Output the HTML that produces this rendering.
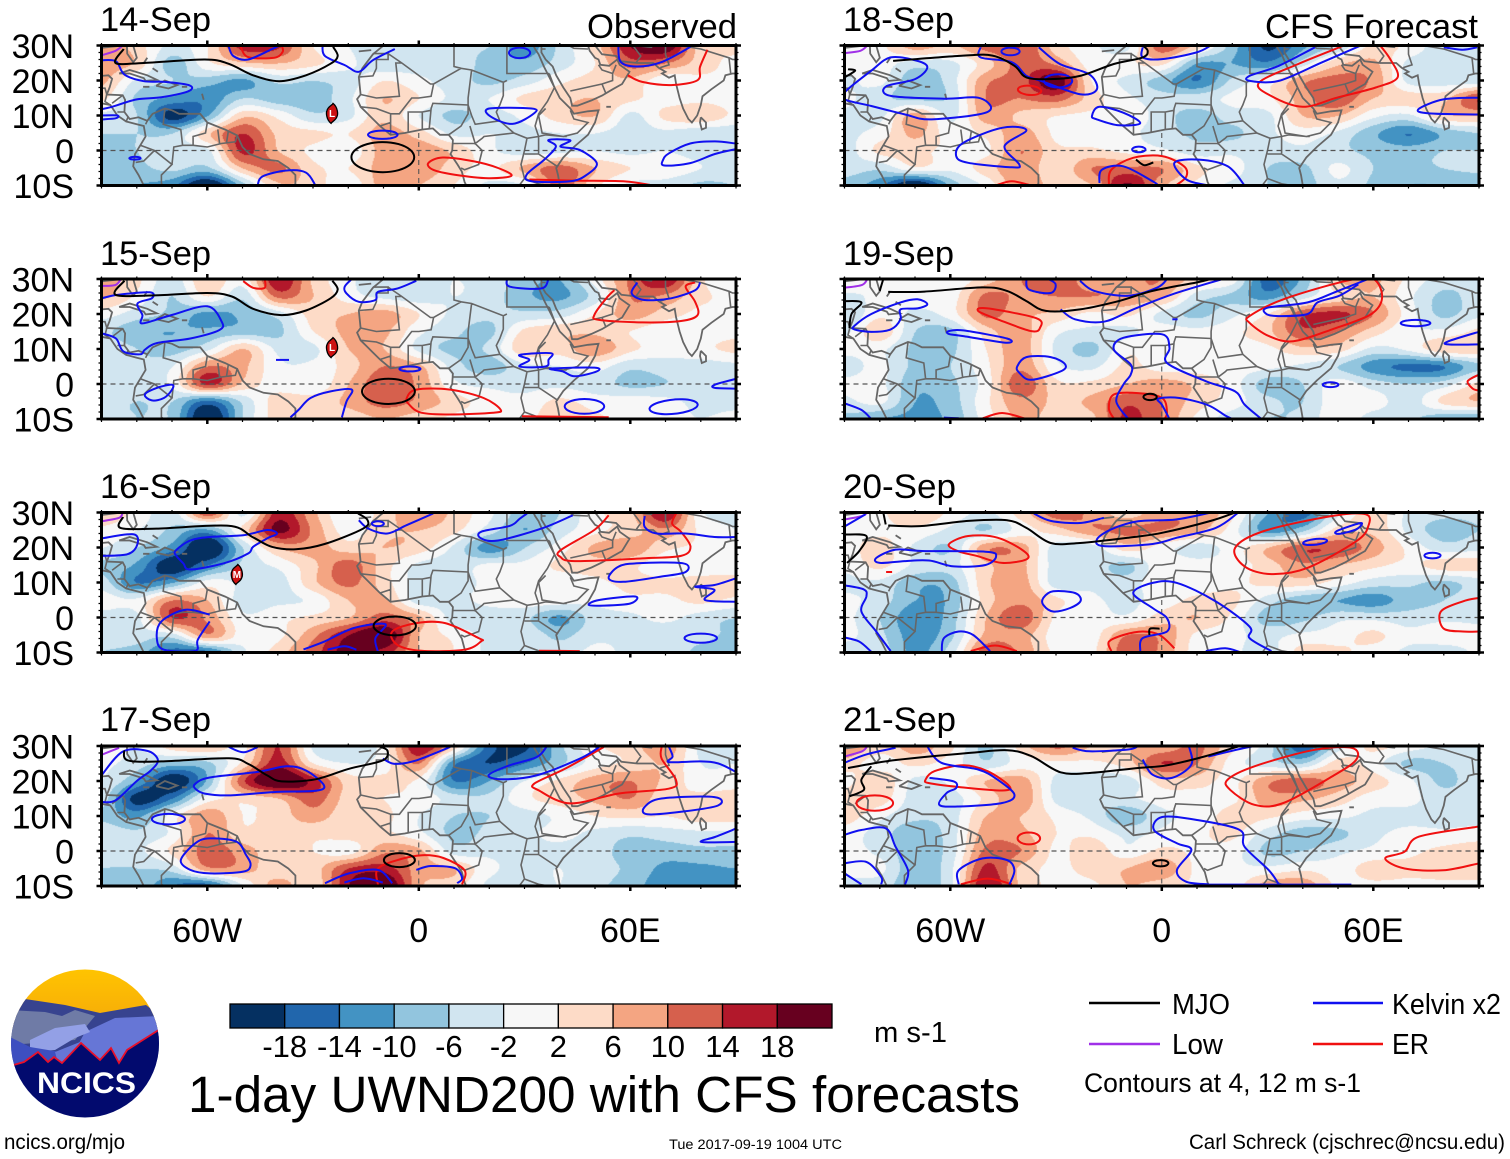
<!DOCTYPE html>
<html lang="en">
<head>
<meta charset="utf-8">
<title>1-day UWND200 with CFS forecasts</title>
<style>
html,body{margin:0;padding:0;background:#fff;}
#stage{position:relative;width:1510px;height:1159px;overflow:hidden;background:#fff;}
#stage canvas{position:absolute;display:block;}
#overlay{position:absolute;left:0;top:0;}
text{font-family:"Liberation Sans",sans-serif;fill:#000;}
</style>
</head>
<body>
<div id="stage">
<svg id="overlay" width="1510" height="1159" viewBox="0 0 1510 1159" xmlns="http://www.w3.org/2000/svg">
  <defs id="defs"></defs>
  <g id="panels"></g>
  <g font-size="34">
    <text x="100" y="31" textLength="111" lengthAdjust="spacingAndGlyphs">14-Sep</text>
    <text x="100" y="265" textLength="111" lengthAdjust="spacingAndGlyphs">15-Sep</text>
    <text x="100" y="498" textLength="111" lengthAdjust="spacingAndGlyphs">16-Sep</text>
    <text x="100" y="731" textLength="111" lengthAdjust="spacingAndGlyphs">17-Sep</text>
    <text x="843" y="31" textLength="111" lengthAdjust="spacingAndGlyphs">18-Sep</text>
    <text x="843" y="265" textLength="111" lengthAdjust="spacingAndGlyphs">19-Sep</text>
    <text x="843" y="498" textLength="113" lengthAdjust="spacingAndGlyphs">20-Sep</text>
    <text x="843" y="731" textLength="113" lengthAdjust="spacingAndGlyphs">21-Sep</text>
    <text x="587" y="38" textLength="150" lengthAdjust="spacingAndGlyphs">Observed</text>
    <text x="1265" y="38" textLength="213" lengthAdjust="spacingAndGlyphs">CFS Forecast</text>
  </g>
  <g id="axis-labels" font-size="34"></g>
  <g id="colorbar"></g>
  <text x="874" y="1042" font-size="29" textLength="73" lengthAdjust="spacingAndGlyphs">m s-1</text>
  <text x="188" y="1112" font-size="51" textLength="832" lengthAdjust="spacingAndGlyphs">1-day UWND200 with CFS forecasts</text>

  <g font-size="29">
    <line x1="1089" y1="1003" x2="1160" y2="1003" stroke="#000" stroke-width="2.5"/>
    <text x="1172" y="1014" textLength="58" lengthAdjust="spacingAndGlyphs">MJO</text>
    <line x1="1313" y1="1003" x2="1383" y2="1003" stroke="#1010f0" stroke-width="2.5"/>
    <text x="1392" y="1014" textLength="109" lengthAdjust="spacingAndGlyphs">Kelvin x2</text>
    <line x1="1089" y1="1044" x2="1160" y2="1044" stroke="#a030e8" stroke-width="2.5"/>
    <text x="1172" y="1054" textLength="51" lengthAdjust="spacingAndGlyphs">Low</text>
    <line x1="1313" y1="1044" x2="1383" y2="1044" stroke="#f01010" stroke-width="2.5"/>
    <text x="1392" y="1054" textLength="37" lengthAdjust="spacingAndGlyphs">ER</text>
    <text x="1084" y="1092" font-size="27" textLength="277" lengthAdjust="spacingAndGlyphs">Contours at 4, 12 m s-1</text>
  </g>

  <g>
    <clipPath id="logoClip"><ellipse cx="85" cy="1043.5" rx="74" ry="74"/></clipPath>
    <linearGradient id="sky" x1="0" y1="0" x2="0" y2="1"><stop offset="0" stop-color="#ffc400"/><stop offset="1" stop-color="#f5a80a"/></linearGradient>
    <g clip-path="url(#logoClip)">
      <rect x="10" y="969" width="150" height="60" fill="url(#sky)"/>
      <path d="M10 998 L25 999 L65 1005 L100 1013 L146 1005 L160 1016 L160 1070 L10 1070Z" fill="#37438f"/>
      <path d="M10 1010 L45 1012 L62 1016 L75 1010 L95 1016 L85 1028 L75 1040 L10 1045Z" fill="#6f7ba6"/>
      <path d="M85 1032 L115 1018 L160 1016 L160 1040 L100 1060 L70 1060 Z" fill="#6676d6"/>
      <path d="M30 1040 L55 1028 L85 1024 L90 1032 L75 1038 L55 1050 L30 1052 Z" fill="#93a0e6"/>
      <path d="M10 1037 L30 1047 L60 1052 L100 1048 L80 1060 L10 1075 Z" fill="#3d4fc0"/>
      <path d="M55 1052 L85 1040 L120 1036 L157 1031 L157 1060 L60 1070Z" fill="#6676d6"/>
      <path d="M10 1066 L13.5 1065 L24 1062 L38 1052 L48 1062 L54 1057 L62 1063 L81 1043 L100 1060 L111 1048 L119 1063 L127 1050 L157 1031 L162 1028 L162 1120 L10 1120Z" fill="#020a6e"/>
      <path d="M10 1066 L13.5 1065 L24 1062 L38 1052 L48 1062 L54 1057 L62 1063 L81 1043 L100 1060 L111 1048 L119 1063 L127 1050 L157 1031 L162 1028" fill="none" stroke="#e8102a" stroke-width="1.8"/>
    </g>
    <text x="37" y="1093" font-size="30" font-weight="bold" textLength="99" lengthAdjust="spacingAndGlyphs" style="fill:#fff">NCICS</text>
  </g>

  <text x="4" y="1149" font-size="21" textLength="121" lengthAdjust="spacingAndGlyphs">ncics.org/mjo</text>
  <text x="669" y="1149" font-size="14" textLength="173" lengthAdjust="spacingAndGlyphs">Tue 2017-09-19 1004 UTC</text>
  <text x="1189" y="1149" font-size="21" textLength="316" lengthAdjust="spacingAndGlyphs">Carl Schreck (cjschrec@ncsu.edu)</text>
</svg>
</div>

<script>
/* ---------- axes and color scale ---------- */
const lonGrid = [-90,-80,-70,-60,-50,-40,-30,-20,-10,0,10,20,30,40,50,60,70,80,90];
const latGrid = [30,25,20,15,10,5,0,-5,-10];
const latTickLabels = ['30N','20N','10N','0','10S'];
const latTickValues = [30,20,10,0,-10];
const lonTickLabels = ['60W','0','60E'];
const lonTickValues = [-60,0,60];
const colorbarLabels = ['-18','-14','-10','-6','-2','2','6','10','14','18'];
const colorbarEdges = [-18,-14,-10,-6,-2,2,6,10,14,18];
const colorbarColors = ['#053061','#2166ac','#4393c3','#92c5de','#d1e5f0','#f7f7f7','#fddbc7','#f4a582','#d6604d','#b2182b','#67001f'];

/* ---------- UWND200 anomaly, rows north to south, columns west to east ---------- */
const uwnd14 = [
[10,4,-3,2,16,15,2,-2,-5,-6,-6,-6,-12,-5,4,18,22,4,3],
[9,5,-8,1,5,6,3,-1,-5,-4,-3,-8,-9,-4,2,12,10,4,1],
[7,-3,-6,-8,-11,-5,-6,-4,2,-1,-4,-7,-4,1,4,5,-1,1,1],
[3,-7,-11,-13,-6,-8,-8,-3,6,2,-3,-2,3,5,6,3,0,1,0],
[-3,-6,-20,-10,5,1,-5,-3,5,-2,-7,-4,-1,4,6,-3,3,5,1],
[-6,-6,-6,5,14,5,3,2,8,4,-3,-2,-3,-2,-2,-4,-3,-5,-5],
[-7,-6,-4,-3,15,6,1,-1,8,9,5,-1,-4,-3,-2,-3,-2,-4,-5],
[-7,-7,-5,-7,6,11,3,2,8,9,4,1,7,12,6,2,1,-2,-4],
[-8,-10,-13,-24,-8,5,4,-1,8,6,2,-3,-2,12,3,-3,-4,-7,-6]];
const uwnd15 = [
[8,3,-4,6,0,18,5,-1,-5,-3,-2,-3,-8,-10,0,11,18,3,-1],
[7,1,-6,2,-5,11,6,0,-3,-4,-2,-4,-9,-11,-4,10,9,3,1],
[0,-4,-7,-11,-9,-4,4,6,8,2,-3,-5,-5,-4,2,8,4,1,2],
[-5,-9,-10,-9,-8,-7,2,7,7,-1,-5,-7,3,5,5,2,-1,0,1],
[-3,-6,-8,-3,6,-3,-3,6,6,-3,-7,-5,5,4,9,3,0,1,3],
[-3,-5,-2,10,7,-1,-1,4,10,7,-4,-8,-3,-2,0,-5,-4,-4,-3],
[-4,-3,-1,15,5,0,-1,6,13,9,-1,-3,-3,-3,-4,-7,-6,-4,-3],
[-5,-6,-6,-15,-5,4,4,7,12,9,4,0,-1,3,0,0,-1,-3,-3],
[-5,-6,-7,-24,-6,4,6,4,6,4,1,-1,0,6,3,0,-1,-2,-1]];
const uwnd16 = [
[5,1,-4,13,-3,16,7,-2,4,9,5,-1,-8,-6,1,5,18,-1,-3],
[1,-2,-7,-11,3,19,9,0,5,6,3,-4,-10,-4,1,4,9,1,-2],
[-2,-6,-12,-24,-6,6,8,4,6,4,-3,-12,-6,0,7,9,3,1,-1],
[-7,-11,-22,-14,-5,-1,5,12,4,-3,-4,-1,-1,3,4,3,-1,-1,-1],
[-4,-14,-10,0,-3,-4,5,11,4,-4,-4,-1,-1,-1,1,3,3,4,4],
[0,-1,10,6,-4,-3,-1,6,7,-4,-3,-1,0,0,-1,1,1,3,1],
[-4,-3,14,9,-1,1,3,6,12,7,-4,-4,-5,-11,-4,-3,-1,-4,-6],
[-5,-4,-4,9,0,1,9,18,23,6,1,-3,-3,-7,-3,-3,-5,-5,-7],
[-6,-8,-16,-16,-3,4,12,20,16,6,2,-3,-3,-4,-1,-3,-4,-7,-9]];
const uwnd17 = [
[1,-2,4,6,1,14,-3,-6,0,18,5,-16,-19,-7,1,4,9,-3,-3],
[-1,-4,-8,-7,3,16,2,-2,0,10,-13,-18,-14,-7,0,3,6,-2,-2],
[-2,-10,-22,-9,13,24,16,4,3,1,-14,-10,-2,3,8,10,5,0,0],
[-4,-20,-14,0,3,6,12,4,2,1,-4,-5,1,4,7,10,3,3,4],
[-7,-11,0,9,2,4,8,3,3,-2,-6,-6,-4,-1,2,3,2,4,4],
[-3,-5,-1,10,3,5,3,4,3,-1,-7,-5,-3,-1,-3,-5,-4,-3,-3],
[-5,-3,3,12,8,3,2,0,9,7,-4,-3,-3,-3,-4,-8,-8,-7,-7],
[-6,-6,-4,9,8,3,4,14,16,8,6,-1,-3,-2,-4,-7,-11,-11,-10],
[-6,-7,-14,-16,-2,8,3,18,24,7,4,-3,-4,-2,-5,-8,-13,-14,-14]];
const uwnd18 = [
[-1,1,8,5,12,14,4,-1,-3,13,4,-8,-19,-11,-5,3,1,-5,-5],
[0,0,-4,-3,4,12,9,0,1,3,-10,-10,-13,-4,5,7,-3,-4,-5],
[-3,-1,-9,-4,9,12,21,2,-3,-8,-14,-5,0,9,12,9,-3,-4,-4],
[-1,-5,-7,-5,10,10,12,4,-1,-4,-4,-1,1,8,13,6,4,5,14],
[-3,-3,8,-3,8,5,2,1,1,-4,-8,-4,-3,6,6,-1,-3,5,6],
[-3,0,7,0,3,8,1,0,-1,-4,-7,-7,-3,0,-3,-9,-14,-9,-6],
[-4,3,3,1,1,10,3,3,1,-1,-4,-3,-4,-3,-5,-7,-8,-6,-6],
[-4,-5,1,-1,4,9,3,10,11,10,3,0,-6,-7,-1,-6,-7,-6,-5],
[-8,-13,-24,-9,-1,9,4,6,19,7,1,-3,-6,-8,-3,-7,-10,-10,-10]];
const uwnd19 = [
[2,-2,1,-1,4,10,14,7,9,10,4,0,-16,-9,6,7,1,-4,-4],
[-3,-1,0,0,11,9,10,10,9,7,-4,-7,-12,-4,3,6,-1,-7,-4],
[-6,1,-3,0,11,7,5,1,3,-3,-7,-3,2,13,15,10,0,-7,-3],
[-3,5,-6,-7,4,8,-1,-3,-3,0,-1,1,5,13,10,4,-1,-1,3],
[-1,-1,-7,-7,2,8,-3,-7,1,0,0,0,1,5,4,-3,-1,5,5],
[-4,-1,-7,-6,1,9,-1,-3,3,0,0,0,-1,-3,-6,-12,-15,-14,-7],
[-1,-1,-9,-7,0,13,3,3,6,8,5,0,-8,-6,0,-4,-6,-4,3],
[-3,-1,-10,-8,1,9,5,7,13,10,4,0,-5,-6,1,0,-4,3,6],
[-7,-10,-11,-9,0,7,4,5,15,10,1,-4,-6,-5,1,-4,-5,-9,-10]];
const uwnd20 = [
[-2,1,6,1,-3,4,12,9,4,9,9,3,-10,-16,-3,4,-3,-5,-5],
[0,1,1,-3,-6,0,4,9,11,10,7,0,-12,-7,4,5,-3,-8,-6],
[0,4,-3,-6,9,8,-4,-4,4,0,-4,0,6,13,13,8,1,-4,-3],
[-1,3,-3,-4,5,7,-4,-4,-7,1,0,0,4,9,6,3,1,4,4],
[-3,-3,-9,-8,5,8,-4,-3,-4,1,0,1,3,4,0,-4,-5,-7,-4],
[-1,-4,-10,-9,4,9,3,-1,-3,0,3,3,-4,-9,-10,-12,-8,-6,-3],
[-1,-6,-13,-8,6,13,1,0,-1,4,6,1,-8,-7,-3,-3,-4,-3,-3],
[-1,-5,-12,-7,7,8,0,0,10,9,1,-1,-3,-1,0,3,-1,1,0],
[-4,-4,-11,-4,13,9,1,1,13,9,0,-1,-4,4,3,0,-3,-5,-1]];
const uwnd21 = [
[11,4,8,3,-7,4,11,6,6,7,11,3,-4,-17,-4,3,0,-3,-4],
[4,0,3,0,-5,0,1,1,4,14,10,0,-4,-6,4,0,-7,-6,-4],
[1,5,-3,-1,6,8,-3,-4,-4,4,4,1,9,12,8,4,-1,-7,-3],
[4,4,-4,-4,3,9,-3,-5,-3,0,0,1,8,7,4,0,-1,-4,-4],
[4,-1,-5,-4,6,6,1,-3,-9,-3,-1,4,3,0,-1,-3,-3,-4,-4],
[0,-4,-9,-4,8,7,2,1,-3,-1,1,3,-4,-8,-7,-3,-1,-1,0],
[-1,-3,-9,-4,11,10,1,5,-1,3,1,0,-7,-6,-3,-1,1,3,4],
[-1,-1,-9,-3,15,5,1,4,6,9,1,-1,-1,1,0,4,3,4,4],
[-3,-4,-9,-3,18,5,1,1,6,4,1,0,8,9,1,1,1,1,1]];

/* ---------- contours as lon/lat traces: plain = open, {c} = closed, {e} = [lon,lat,rx,ry,rot] ---------- */
const mjo14 = [[[-83.7,29],[-86,25],[-78,25],[-60.7,26],[-54,24.8],[-47,21.5],[-39.6,19.8],[-32,21.5],[-25,24.8],[-23,27],[-24.3,29.6]],{e:[-10.2,-1.9,8.9,4.3,0]}];
const kelvin14 = [[[-90,25.8],[-85.9,25.5],[-83.5,21.7],[-78,19.8],[-72,19.6],[-65,18.6],[-65.4,16.9],[-73,15.2],[-80,14.6],[-87,12.5],[-90,11.8]],[[-90,10],[-85.5,10],[-86,9.2],[-90,8.9]],[[-54,30],[-52.6,27],[-48.4,26],[-41.6,29],[-39.6,30]],[[-27.3,30],[-26.6,27],[-21,24.4],[-17,22.5],[-13,25.8],[-6.8,29]],{e:[28.6,27.9,3,1.5,-20]},[[56.6,30],[57.3,25.3],[62,24],[69,25.3],[77.1,29.6]],{c:[[20,12],[32,12],[32.7,10.6],[26.6,7.6],[20.4,9.7]]},{e:[-10.2,4.5,4.2,1.2,0]},{e:[-80.5,-2.2,1.6,.4,0]},{c:[[36.8,3],[43,2.9],[40.2,1.1],[45.6,.2],[50.5,-3.6],[47.7,-6.9],[43,-8.8],[32,-8.8],[30.6,-6.9],[35.5,-2.7],[38.9,1.1]]},[[90,2],[84,2.6],[77,2],[71,-.8],[69.3,-2.7],[69.7,-4.3],[77,-3.6],[84,-1],[90,.4]],[[-45.7,-9.8],[-44.3,-7.4],[-37.5,-5.7],[-32,-6.3],[-29.3,-10]]];
const er14 = [[[-50.5,29.6],[-48.4,26.7],[-41,26.5],[-38.6,28.2],[-38.9,30]],[[81.9,28.8],[79.8,23.9],[79.1,20.1],[71.6,18.7],[63.4,19.6],[59.3,21.5]],{c:[[2.7,-3.6],[6.8,-2],[15.7,-3.1],[22.5,-5],[26.3,-7.2],[19.8,-7.9],[10.2,-6.9],[4.1,-5.5]]},[[31.4,-8.3],[44.3,-8.6],[58,-8.8],[65.5,-9.8]]];
const low14 = [[[-90,27.2],[-86,28.5],[-84,30]]];

const mjo15 = [[[-83.5,29.5],[-86,25.5],[-75,25.3],[-60,26],[-53,25],[-47,21.5],[-39,19.7],[-32,21],[-25,24.5],[-23,27],[-24.5,29.5]],{e:[-8.6,-2.1,7.5,3.6,0]}];
const kelvin15 = [[[-90,24.5],[-85.2,25.5],[-76.3,26.2],[-75.7,24.5],[-79.8,23],[-78.4,19.7],[-78.4,17.3],[-70.2,19.7],[-60,22.2],[-55.9,17.8],[-56.6,15.4],[-64.8,13],[-74.3,11.7],[-77.7,9.8],[-79,8.5],[-83.8,9.3],[-85.9,13],[-90,14.5]],[[-19,30],[-21,27.8],[-20.5,25.9],[-17,23.5],[-12.3,24],[-11.6,26.3],[-6,27.3],[-.7,29.5]],[[-40.5,6.9],[-36.8,6.9]],{e:[-2.5,4.3,3,.7,0]},[[25,30],[25.9,27.8],[34.8,27.3],[36.8,30]],{c:[[28.6,8.3],[37.5,8.8],[36.8,6.9],[36,5],[28.6,5],[31.4,6.9]]},{c:[[37.5,4.4],[49.8,4.7],[50.5,3.6],[44.3,2.2],[40.9,3.6]]},{e:[47,-6.4,5.6,2.1,0]},{e:[72.3,-6.5,7,2,15]},[[90,1.5],[84,-.2],[84,-1.1],[90,-1.3]],{c:[[-70,-.2],[-74.3,-1.1],[-77.7,-3],[-75.7,-4.7],[-72.3,-4],[-70,-1.6]]},[[-36.4,-9.5],[-34,-7.3],[-30.7,-4],[-25,-2.1],[-19,-1.6],[-20.5,-5],[-21.8,-9.5]],[[62,29],[60.4,25.9],[64,24],[71.6,24.5],[78.4,26.8],[79.8,29]]];
const er15 = [[[-49.8,29.4],[-47,27.5],[-43.7,27.5],[-43.7,30]],[[55.5,26.8],[53.2,24.5],[49.8,19.7],[51.2,18.3],[63.4,17.6],[74.4,18],[79.1,19.7],[78.4,23.5],[75.7,27.8],[78.4,29]],{c:[[-3.4,-4],[-.7,-1.6],[8.9,-1.6],[18.4,-4],[23.2,-7.3],[21.1,-8.2],[8.9,-8.7],[.7,-8.2],[-2.7,-5.9]]},[[29.3,-9.2],[53.9,-9.5]]];
const low15 = [[[-90,28],[-86,28.3],[-84.5,30]]];

const mjo16 = [[[-83.9,28.7],[-84.6,25.6],[-74.4,25.4],[-54,26.2],[-47.2,23],[-41.7,20.2],[-34.9,19.5],[-26.7,21],[-15.8,25.4],[-14.5,27.8],[-17.2,29.7]],{e:[-6.8,-2.4,6,2.7,0]}];
const kelvin16 = [[[-90,22.6],[-81,23.8],[-79.8,21],[-82.5,18.1],[-90,17.6]],[[-17,27.8],[-14.3,25.4],[-8.9,24],[-3.4,26.4],[4.1,29.7]],{c:[[-68.9,19.2],[-64.8,22],[-59.3,23],[-49.8,23.5],[-43,25],[-40.2,24],[-43,22.6],[-47,20.2],[-48.4,18.3],[-55.3,15.5],[-64.8,13.7],[-66.8,15.5],[-68.9,17.8]]},{e:[-11.6,26.8,1.7,.7,0]},[[30.7,29.7],[28.6,28.2],[25.9,26.2],[17.7,24.5],[17.7,22.6],[22.5,22],[34.8,25.4],[43.7,29.2]],[[64.1,29],[64.1,25.9],[67.5,24],[75.7,24],[83.9,23],[90,23]],{c:[[53.9,11.2],[56.6,14.5],[62,15.5],[75,15.5],[75.7,13],[68.9,11.7],[58,10.2]]},{c:[[48.2,3.6],[51.2,5],[61.4,6],[60,4],[52.5,3.4]]},[[90,11.2],[83.9,9.3],[78.4,8.8],[83.9,7.9],[81.2,5],[90,4.5]],{e:[80,-5.9,4.6,1.3,0]},[[-59.3,.8],[-66.2,2.2],[-73,-1.1],[-74.3,-5.9],[-72.3,-9.2],[-63.4,-9.5],[-62.7,-6.4],[-59.3,-1.1]],[[-32.7,-9.1],[-26.6,-6.8],[-18.4,-3],[-9.5,-1.9],[-12.3,-5.9],[-11.6,-9.7]],[[-25.9,-9.2],[-21.1,-8.2],[-17.7,-9.2]]];
const er16 = [[[53.9,29.2],[49.8,25],[40.2,19.2],[40.2,17.3],[44.3,16.1],[63.4,16.9],[74.4,17.6],[77.1,20.2],[74.4,24.5],[71.9,26.8],[73,29.7]],{c:[[-7.5,-4],[-.7,-1.6],[7.5,-1.6],[17,-5.9],[17.7,-6.8],[13,-9.2],[.7,-9.5],[-6.1,-7.8]]},[[34.1,-9.5],[45.7,-9.6]]];
const low16 = [[[-90,27.5],[-85,28.5],[-84,30]]];

const mjo17 = [[[-83.6,28.7],[-82.5,25.9],[-73,25.6],[-53.9,26.5],[-48.4,24.9],[-43,21.6],[-38.9,19.9],[-29.3,20.5],[-19.8,23.5],[-10.2,25.9],[-8.9,28.7],[-11.6,30]],{e:[-5.5,-2.6,4.4,2,0]}];
const kelvin17 = [[[-90,21.6],[-84,28.4],[-77,28.6],[-74,26],[-76,23],[-80,20],[-86,14.5],[-90,14]],{c:[[-63.4,19.2],[-59.3,21],[-45.7,22.6],[-37.5,24.2],[-32,23],[-26.9,18.8],[-29.3,17.2],[-40.2,16.9],[-53.9,15.9],[-60.7,16.4],[-63.4,17.8]]},[[-53.9,29.7],[-49.8,28.2],[-45.7,29.7]],[[-10.2,26.4],[-6.8,24.9],[-.7,25.9],[8.9,29.7]],[[36.2,29.7],[33.4,26.8],[25.2,24.3],[19.8,21.6],[23.9,20.5],[33.4,21.6],[45.7,26.4],[51.2,29.7]],[[71,29.7],[72,27],[71,25.4],[80,25.6],[85,25],[90,22.6]],{c:[[64.1,12.6],[68.9,15],[83.9,15.4],[84.9,13],[74.4,11.2],[64.8,10.5]]},[[90,6.4],[84,4],[80.5,3],[81,2.5],[90,2.6]],{e:[-71,9.1,4.7,1.5,0]},{c:[[-67.5,-2.6],[-63.4,2.2],[-59.3,3.6],[-51.8,2.7],[-49,-1.1],[-47.7,-4],[-49.8,-5.9],[-59.3,-6.4],[-64.8,-5.4]]},[[-26.6,-9.2],[-19.8,-6.4],[-11.6,-5.4],[-7.5,-9.2]],[[-21.1,-9],[-15.7,-7.8],[-10.2,-9]],[[-.7,-5.4],[3.4,-4.3],[10.2,-4.9],[12.3,-7.8],[10.9,-9.2]]];
const er17 = [[[-11.6,-9.6],[-11.6,-5],[-5,-2.3],[1,-1.2],[7,-2],[13,-5.5],[12.3,-9.5]],[[52.5,29.7],[41.5,23.5],[32.7,19.2],[34.1,17.3],[43,13.6],[56.6,16.4],[70.9,17.8],[73,20.2],[68.9,26.4],[68.9,29.7]]];
const low17 = [[[-90,27.5],[-85,29.5]]];

const mjo18 = [[[-76.2,25.6],[-56.3,27.1],[-48,27.1],[-41.8,24.2],[-38.4,20.9],[-31.5,20.4],[-23.2,21.3],[-13.6,24.7],[-5.4,26.6],[-4,28.5],[-5.4,30]],[[-89,23.2],[-87,22.8],[-90,20.9]],[[-7.3,-2.6],[-5,-4.2],[-2.4,-3.4]]];
const kelvin18 = [{c:[[-90,16.6],[-82.4,22.8],[-76.9,26.6],[-69.3,25.6],[-66.5,23.7],[-70,20.4],[-78.2,18.3],[-76.9,15.6],[-61.8,14.8],[-52.1,15.1],[-48.4,12.2],[-52.1,10.3],[-65.9,8.9],[-72.8,10.3],[-82.4,12.7],[-90,14.6]]},[[-51.4,29.5],[-51.4,26.6],[-42.5,25.2],[-38.4,21.3],[-34.2,19.9],[-23.2,16.1],[-18.4,17.5],[-20.6,21.8],[-28.9,24.7],[-34.9,29.5]],{e:[-42.9,28.3,2.6,1.1,0]},{e:[-29.4,19.9,4,1.9,0]},[[-5.4,29.5],[-5.4,26.6],[.1,26.1],[9.8,28],[13.9,30]],[[43.5,29.5],[33.2,24.2],[24.9,21.3],[25,19.9],[33.2,19.9],[45.5,25.2],[56.5,30]],[[80,29.5],[85.4,28.8],[89.5,29.5]],[[89.9,15.1],[79.9,14.6],[72.8,11.8],[75.8,10.6],[89.9,10.3]],{c:[[-19.8,9.9],[-17.7,12.5],[-10.9,10.8],[-6.1,7.8],[-12.2,7.2],[-18.4,8.9]]},{c:[[-58.3,-1.6],[-56.3,2.2],[-45.3,6.5],[-38.4,5.8],[-44.6,1.2],[-40.4,-4],[-42.5,-4.8],[-54.9,-3.5]]},{e:[-6.5,.3,1.9,.8,0]},[[-17.7,-9.3],[-17,-5.5],[-10.9,-4.5],[-2.6,-8.8],[-1,-10]],[[13.2,-10],[7,-8.3],[3.6,-3.5],[10.5,-2.6],[18.7,-4.5],[23.5,-10]]];
const er18 = [[[-15,-9.8],[-14.3,-5.5],[-8.1,-2.1],[.1,-1.6],[6.3,-4.5],[7,-7.4],[4.3,-9.8]],{e:[-37.5,17.2,3.4,1.3,-20]},[[-46.6,-9.8],[-42.5,-8.8],[-37.7,-9.8]],[[51.7,30],[38.7,24.7],[27.6,19.4],[31,15.6],[40,12.5],[49.7,15.1],[60.7,18],[66.9,20.9],[64.8,26.1],[62,30]]];
const low18 = [[[-90,27.8],[-85.5,28.5],[-83.5,30]]];

const mjo19 = [[[-77.6,26.3],[-67.3,26.4],[-50.8,27.6],[-43.9,26.6],[-38.4,23.7],[-32.9,20.9],[-23.2,21.3],[-12.2,23.7],[-2.6,26.6],[9.8,29],[13.9,30]],[[-79,30],[-80,26.6]],[[-90,23.7],[-85.2,23.3],[-88,20],[-88.6,16]],{e:[-3.3,-3.7,1.9,.9,0]}];
const kelvin19 = [{c:[[-87.2,16.6],[-82.4,20],[-74.1,23.3],[-69.3,24.2],[-66.5,22.8],[-69.3,21.6],[-74.1,21.3],[-74.1,18.5],[-76.9,15.6],[-82.4,14.9],[-87.2,15.6]]},{c:[[-60.4,15.1],[-56.3,15.3],[-43.9,13],[-44.2,11.8],[-56.3,13.7],[-60.4,14.3]]},{c:[[-41,5],[-38.4,7.7],[-31.5,7.7],[-27.4,5.6],[-28.7,3.6],[-37,1.2],[-40.4,3.2]]},[[-38.4,30],[-37.7,27],[-31.5,26],[-30.1,28.5],[-32.2,30]],[[-23.2,29.5],[-19.1,26.6],[-9.5,25.2],[-1.2,27.6],[1.5,30]],[[-28.7,21.3],[-24.6,18.5],[-16.4,17.8],[-8.1,21.3],[2.9,25.6],[17.3,30]],[[3,18.5],[4.5,18.5]],[[58.6,30],[50,26.6],[41.4,23.3],[30,21.8],[29.7,20],[33.2,19.4],[41.4,20],[44.2,23.3],[50.3,25.2],[55.8,28.5]],{e:[72,17.4,4.2,.9,0]},[[89.9,14.9],[81.3,12.2],[81.3,11.3],[89.9,11.3]],[[28.3,-10],[23.5,-5.9],[20.8,-2.1],[12.5,.8],[1.5,6],[2.2,10.3],[.1,14.2],[-10.9,13.2],[-13.6,9.9],[-8.8,5.6],[-8.8,2.7],[-10.9,-.2],[-12.9,-5],[-9.5,-10]],[[2.2,-10],[.1,-6],[-1,-4.2],[5,-4],[13,-6],[18,-9],[20,-10]],{e:[47.9,-.2,2.2,.7,0]},[[-90,-5.5],[-85.2,-7.4],[-82.4,-10]],[[-61.8,-9.6],[-57.6,-9.8]]];
const er19 = [{c:[[-52.1,20.9],[-49.4,21.6],[-35.6,18.8],[-34.5,16.1],[-37,15.1],[-46.6,18.5]]},{c:[[24.9,19.4],[34.5,24.2],[52.4,29.5],[60,30],[62.5,24.7],[59.3,19.9],[48.3,15.6],[37.3,12.2],[30.4,13.7],[24.9,17.5]]},[[-13.5,-10],[-15,-7],[-13.6,-3],[-6.7,-2.6],[.1,-4],[1.5,-8],[.8,-10]],[[-50.8,-9.8],[-45.3,-8.3],[-39,-9.8]],[[90,2.7],[86.8,.8],[88.2,-1.3],[90,-1.9]]];
const low19 = [[[-90,27.5],[-85,28.3],[-83.5,30]]];

const mjo20 = [[[-77.6,26.3],[-68.6,26.1],[-54.9,27.6],[-43.9,27.8],[-38.4,25.6],[-31.5,21.3],[-23.2,21.3],[-9.5,22.8],[.1,24.2],[13.9,27.6],[20.8,30]],[[-79,30],[-78.3,26.6]],[[-90,23.7],[-83.8,23.3],[-85.8,19],[-89.3,15.6]],[[-3.5,-5],[-3.3,-3.2],[-.6,-3.2]]];
const kelvin20 = [[[-90,26],[-84,29.5]],[[-36.3,29.7],[-31.5,27.6],[-23.2,27],[-16.4,28.5]],[[14,30],[4,28],[-6.7,27.5],[-14.3,25.2],[-18.4,22.3],[-16.4,20.4],[-2.6,21],[4.3,22.8],[15.3,25.6],[21.5,29.8]],{c:[[-81,17],[-75.5,19.4],[-68,19],[-50,18.8],[-47,17.5],[-50,15],[-59,14.6],[-66,16.3],[-73,16.1],[-80,15.6]]},{e:[43.5,21.6,3.5,.8,15]},{c:[[49.7,24.7],[56.5,27],[55.2,25.2],[50.3,23.9]]},{e:[76.8,17.7,2.3,.8,0]},[[-90,9.2],[-84.5,8],[-83.8,6],[-85.2,1.7],[-81,-4],[-76.9,-9.6]],[[-90,-5.7],[-85.8,-6.9],[-82.4,-9.8]],{c:[[-33.6,5.6],[-30.8,7.5],[-24.6,7],[-23,4.8],[-26,2.7],[-30.8,1.7],[-33.6,3.6]]},[[-62.4,-9.6],[-61.8,-5.9],[-57.6,-4],[-53.5,-5],[-48.7,-9.6]],[[31.1,-9.6],[24.9,-5.9],[24.9,-2.6],[15.3,4.6],[4.3,9.9],[-2.6,9.9],[-8.1,7],[-2.6,2.7],[1.5,-.2],[1.5,-4],[-5.4,-5.9],[-6.1,-9.6]],[[12.5,-9.6],[18,-8.8],[22,-9.8]]];
const er20 = [{c:[[-60.4,20.9],[-54.9,23.3],[-46.6,22.8],[-39,18.9],[-38.4,16.6],[-45.3,15.6],[-52.1,17.5],[-57.6,18.9]]},[[-78.2,13],[-76.5,13]],{c:[[20.8,19.9],[29,24.7],[48.3,29],[57.9,29.5],[58.6,26.1],[55.2,21.8],[41.4,14.2],[31.1,12.4],[23.5,14.6]]},[[90,5.6],[85.4,4.6],[79.2,1.7],[79.9,-3.1],[85.4,-4],[90,-4]],[[-14.3,-9.6],[-15,-6.9],[-10.9,-5],[-5.4,-4],[-.6,-5],[3.6,-8.8]],[[-54.2,-9.6],[-47.3,-8],[-41.1,-9.6]]];
const low20 = [[[-90,28],[-85,29],[-83.5,30]]];

const mjo21 = [[[-89,23.7],[-83.6,24.7],[-75.4,26],[-54.9,28],[-43.9,28.8],[-37,27.1],[-28.7,22.5],[-20.5,22.3],[-6.7,23.7],[1.5,24.5],[12.5,27.1],[22.1,30]],[[-82.4,24.2],[-85.2,20.4],[-84.5,17.5],[-88.6,15.6]],{e:[-.3,-3.5,2.2,.9,0]}];
const kelvin21 = [[[-90,25.2],[-83.8,27.6],[-75.5,29.5]],[[-66.6,30],[-62.5,25.2],[-52.1,23.3],[-46.6,20.4],[-41.8,16.1],[-45.3,13.7],[-57.6,12.7],[-63.1,13.2],[-61,16.6],[-58.3,18],[-59,19.9],[-65.9,20.9]],[[-25.3,29.5],[-20.5,28.5],[-9.5,29],[-6.7,30]],[[-5.4,26.1],[-2.6,21.8],[2.9,20.9],[8.4,24.7],[7.7,30]],[[13.2,27],[21.5,29],[26.3,30]],[[33.2,-9.5],[30.4,-5.5],[23.5,1.2],[22.1,6],[9.8,8.9],[.1,9.7],[-2.2,6],[4.3,2.2],[8.4,.3],[4.3,-5.5],[7,-8.8],[13.2,-9.5]],[[13.2,-9.6],[53.8,-9.6]],[[-90,4.6],[-85.2,6],[-78.3,6.5],[-75.5,1.2],[-72,-5.5],[-72.8,-9.5]],[[-90,-3.5],[-83.8,-3.1],[-79.6,-7.4],[-79.6,-9.5]],[[-90,-6.4],[-85.2,-9.5]],[[-57.6,-9.5],[-57.6,-5.5],[-50.8,-2.1],[-43.9,-2.6],[-41.8,-5.5],[-43.2,-9.5]]];
const er21 = [{c:[[-67,20.4],[-64.5,22.8],[-56.3,24.5],[-49.4,22.8],[-43.2,18.5],[-45.3,17.3],[-57.6,18.3],[-66,19.4]]},{e:[-81.4,13.7,5.2,2.2,0]},{e:[-37.7,3.6,3.2,1.7,0]},[[-57,-9.5],[-49.4,-7.9],[-42.5,-9.5]],{c:[[18.7,20.4],[26.3,24.2],[42.8,28.8],[53.8,29.5],[55.2,26.1],[48.3,21.3],[34.5,13.7],[26.3,13.2],[19.4,17.5]]},[[90,7],[73,4.1],[68.9,-.2],[63.4,-2.1],[68.9,-5],[79.9,-5.5],[90,-3.5]]];
const low21 = [[[-90,27],[-85,28.5],[-83.5,30]]];

/* ---------- tropical cyclone markers: lon, lat, category letter ---------- */
const storm14 = [[-24.6,10.6,'L']];
const storm15 = [[-24.6,10.4,'L']];
const storm16 = [[-51.6,12.3,'M']];

/* ---------- geography: coasts, borders, islands in lon/lat ---------- */
const coastlines = [
[[-10,30],[-13,27.5],[-16,23.5],[-17,21],[-16.5,16],[-17.5,14.7],[-16.5,12.5],[-15,11],[-13,9],[-11,7],[-8,4.5],[-4,5],[1,6],[4,6.3],[6,4.5],[8.5,4.5],[9.7,3],[9.5,0],[9,-1],[11,-4],[12.2,-6],[13,-9],[13.5,-10]],
[[40,-10],[39.5,-7],[39,-5],[41,-2],[44,1],[48,4.5],[50,8],[51,11.5],[48,11.2],[44,10.5],[43,12],[40,15],[38.5,18],[37,21],[35.5,24],[34,27.5],[33,29],[32.5,30]],
[[34.8,30],[34.8,28],[36,26],[38,24],[39,21.5],[41,18],[43,15],[43.5,12.8],[45,12.8],[49,14.3],[52,15.7],[55,17.5],[57.7,19],[59.8,22.5],[57,24.5],[56.3,26],[54,24.2],[51.5,24.5],[51,26],[50,26.5],[48.5,28.5],[48,30]],
[[48.5,30],[50,30],[52,27.5],[56,27],[57.5,25.5],[62,25],[66.5,25],[68,23.7],[70,22.5],[69,22],[71,20.8],[72.6,21.5],[73,19],[74,15],[75,12],[76.5,9],[77.5,8],[79,10],[80,13],[80.5,15.5],[83,17.5],[86.5,20],[87,21.5],[89,22],[90,22]],
[[-90,21.3],[-88,21.5],[-87,20.5],[-87.7,18],[-88.5,16],[-84,15.8],[-83.3,14.5],[-83.5,11],[-82,9],[-79.5,9.5],[-77,8.5],[-75.5,10.5],[-72,12],[-70,11.5],[-68,10.5],[-62,10.5],[-60,8],[-55,6],[-51.5,4.3],[-50,1],[-48,-1],[-44,-2.5],[-40,-3],[-37,-5],[-35,-7],[-35,-9.5],[-36,-10.5]],
[[-90,13.5],[-87.5,13],[-85.5,10],[-83,8.3],[-80,7.5],[-78,7],[-77.5,4],[-79,1.5],[-80.5,-1],[-81,-4.5],[-79.5,-7],[-78,-10]],
[[-82.8,30],[-82.7,27.7],[-81,25.2],[-80,26.5],[-81,30]],
[[-90,29.3],[-84,30]]];
const islands = [
[[80,9.5],[81.5,8],[81.5,6.5],[80.3,6],[79.8,8],[80,9.5]],
[[-85,22],[-82,23],[-77,21.5],[-74.3,20.2],[-77.5,19.9],[-78,20.7],[-82,22],[-85,22]],
[[-74.5,18.5],[-72,20],[-68.5,18.7],[-71,17.7],[-74.5,18.5]],
[[-78.2,18.2],[-76.4,18.2]],[[-67.2,18.2],[-65.7,18.2]],[[-61.5,16.2],[-61,14.5]],[[-17,28.3],[-13.5,28.7]],[[53.2,12.5],[54.5,12.5]],[[-78,25],[-77,26.5]],[[-75.5,23.5],[-74,22.5]]];
const borders = [
[[-13,27.7],[-8.7,27.7],[-8.7,26],[-12,26],[-12,23.5],[-13,21.3],[-17,21]],
[[-8.7,27.7],[-4.8,25],[3.3,19],[4.2,19],[12,23.5],[15,23],[24,19.5],[24,15.7],[23,13],[22,11],[23,8.5],[27,5],[30.7,3.5],[34,4],[36,4.5],[41,4],[42,4]],
[[25,30],[25,22],[37,22]],[[25,20],[24,19.5]],[[10,30],[10,24],[12,23.5]],
[[-4.8,25],[-6.5,25],[-5.5,15.5],[-12,15],[-16.5,16]],
[[4.2,19],[3.5,15.5],[0,15],[-2,15],[-5.5,10.5],[-8,10.5],[-8,7.5],[-8,4.5]],
[[15,23],[14,15],[14,13],[15,10],[16,7.5],[23,8.5]],
[[3,6.4],[3.5,12],[4,13.5],[14,13]],[[8.5,4.5],[12,7],[14,10.5],[14,13]],
[[-11,7],[-8,8],[-8,10.5],[-12,12],[-16.5,12.5]],
[[-3,5],[-3,11],[1,11],[1,6]],[[3.5,11.5],[1,11]],
[[14.5,7],[16,2],[18,3.5],[18.5,4],[27,5]],
[[9.5,2],[13,2],[16,2],[18,0],[17,-4],[13,-5.5],[12,-5]],
[[30.7,3.5],[30,0],[29,-4],[30,-8],[28.5,-10]],
[[36,12],[34,10],[35,5],[41,4],[45,5],[48,8],[44,9],[43,11.5]],
[[37,22],[38.5,18],[36.5,14],[34,10.5],[33,7],[34,4]],
[[34,-1],[39.5,-4.7]],[[30,-1],[34,-1],[34,4]],[[30,-8],[34,-9.5],[40,-10.5]],
[[36,29],[34.8,29]],[[48,29],[44,29.2],[39,32]],[[43,17],[52,19],[55,20],[55,22],[52,23],[51,24.5]],[[55,22],[56,24.5]],[[52,19],[53,16.5]],
[[60.9,29.8],[63,27],[61.6,25]],[[70,30],[70,27.5],[71,24.5],[68.5,23.7]],[[74,30],[80,29],[88,26.5],[89,26],[90,26]],[[61,30],[66,29.5],[67,31]],[[88,26.5],[88.5,22]],
[[-72,12],[-72.5,7.5],[-67.5,6],[-67,1.5]],[[-79,1.5],[-75,0],[-70,-4],[-73,-7],[-73,-9.5],[-70.5,-11]],[[-80.3,-3.4],[-78,-3],[-75,0]],[[-70,-4],[-69.5,1],[-67,1.5]],
[[-60,8],[-60.5,5],[-64,4],[-64,1.5],[-67,1.5]],[[-64,1.5],[-60,1],[-56,2],[-52,2.5],[-51.5,4.3]],[[-57,6],[-56.5,2]],[[-54,5.7],[-54.5,2.3]],
[[-90,17.8],[-89,17.8],[-88.5,16]],[[-88.5,16],[-89,14],[-87.5,13]],[[-84,15.8],[-87,13.5]],[[-85.5,11],[-83.5,11]],[[-83,8.3],[-82.5,9.5]],[[-77.5,7.5],[-77,8.5]]];

/* ---------- layout: one entry per panel ---------- */
const panelLayout = [
 {day:'14-sep',x0:101.5,y0:45.5,field:uwnd14,mjo:mjo14,kelvin:kelvin14,er:er14,low:low14,storms:storm14,left:true,bottom:false},
 {day:'15-sep',x0:101.5,y0:279,field:uwnd15,mjo:mjo15,kelvin:kelvin15,er:er15,low:low15,storms:storm15,left:true,bottom:false},
 {day:'16-sep',x0:101.5,y0:512.5,field:uwnd16,mjo:mjo16,kelvin:kelvin16,er:er16,low:low16,storms:storm16,left:true,bottom:false},
 {day:'17-sep',x0:101.5,y0:746,field:uwnd17,mjo:mjo17,kelvin:kelvin17,er:er17,low:low17,storms:[],left:true,bottom:true},
 {day:'18-sep',x0:844.5,y0:45.5,field:uwnd18,mjo:mjo18,kelvin:kelvin18,er:er18,low:low18,storms:[],left:false,bottom:false},
 {day:'19-sep',x0:844.5,y0:279,field:uwnd19,mjo:mjo19,kelvin:kelvin19,er:er19,low:low19,storms:[],left:false,bottom:false},
 {day:'20-sep',x0:844.5,y0:512.5,field:uwnd20,mjo:mjo20,kelvin:kelvin20,er:er20,low:low20,storms:[],left:false,bottom:false},
 {day:'21-sep',x0:844.5,y0:746,field:uwnd21,mjo:mjo21,kelvin:kelvin21,er:er21,low:low21,storms:[],left:false,bottom:true}
];

const PW = 634.5, PH = 140;
const SVGNS = 'http://www.w3.org/2000/svg';
const xLon = (p, lon) => p.x0 + (lon + 90) / 180 * PW;
const yLat = (p, lat) => p.y0 + (30 - lat) / 40 * PH;

function make(parent, tag, attrs) {
  const el = document.createElementNS(SVGNS, tag);
  for (const k in attrs) el.setAttribute(k, attrs[k]);
  parent.appendChild(el);
  return el;
}
function hexRGB(h) { return [parseInt(h.slice(1,3),16),parseInt(h.slice(3,5),16),parseInt(h.slice(5,7),16)]; }
const rgbLevels = colorbarColors.map(hexRGB);
function levelIndex(v) {
  let i = 0;
  while (i < colorbarEdges.length && v >= colorbarEdges[i]) i++;
  return i;
}
function cr(a, b, c, d, t) {
  return b + 0.5 * t * (c - a + t * (2 * a - 5 * b + 4 * c - d + t * (3 * (b - c) + d - a)));
}
function sampleField(f, r, c) {
  const nr = f.length, nc = f[0].length;
  const r0 = Math.min(Math.floor(r), nr - 1), c0 = Math.min(Math.floor(c), nc - 1);
  const tr = r - r0, tc = c - c0;
  const vals = [];
  for (let i = -1; i <= 2; i++) {
    const row = f[Math.max(0, Math.min(nr - 1, r0 + i))];
    vals.push(cr(row[Math.max(0, c0 - 1)], row[c0], row[Math.min(nc - 1, c0 + 1)], row[Math.min(nc - 1, c0 + 2)], tc));
  }
  return cr(vals[0], vals[1], vals[2], vals[3], tr);
}
function drawField(p) {
  const cv = document.createElement('canvas');
  
  
  const w = Math.round(PW), h = PH;
  cv.width = w; cv.height = h;
  cv.style.left = p.x0 + 'px';
  cv.style.top = p.y0 + 'px';
  cv.style.width = PW + 'px';
  cv.style.height = PH + 'px';
  const ctx = cv.getContext('2d');
  const img = ctx.createImageData(w, h);
  const stepLon = lonGrid[1] - lonGrid[0];
  const stepLat = latGrid[0] - latGrid[1];
  for (let y = 0; y < h; y++) {
    const lat = 30 - (y + 0.5) / h * 40;
    const r = (latGrid[0] - lat) / stepLat;
    for (let x = 0; x < w; x++) {
      const lon = -90 + (x + 0.5) / w * 180;
      const c = (lon - lonGrid[0]) / stepLon;
      const col = rgbLevels[levelIndex(sampleField(p.field, r, c))];
      const k = (y * w + x) * 4;
      img.data[k] = col[0]; img.data[k+1] = col[1]; img.data[k+2] = col[2]; img.data[k+3] = 255;
    }
  }
  ctx.putImageData(img, 0, 0);
  document.getElementById('stage').insertBefore(cv, document.getElementById('overlay'));
}
function expandTrace(tr) {
  if (Array.isArray(tr)) return {pts: tr, closed: false};
  if (tr.c) return {pts: tr.c, closed: true};
  const [lon, lat, rx, ry, rot] = tr.e;
  const a = rot * Math.PI / 180, pts = [];
  for (let i = 0; i < 12; i++) {
    const t = i / 12 * 2 * Math.PI;
    const dx = rx * Math.cos(t), dy = ry * Math.sin(t);
    pts.push([lon + dx * Math.cos(a) - dy * Math.sin(a) * 2, lat + dx * Math.sin(a) / 2 + dy * Math.cos(a)]);
  }
  return {pts, closed: true};
}
function smoothPath(p, trace) {
  const {pts, closed} = expandTrace(trace);
  const q = pts.map(a => [xLon(p, a[0]), yLat(p, a[1])]);
  const n = q.length;
  const at = i => closed ? q[(i + n) % n] : q[Math.max(0, Math.min(n - 1, i))];
  let d = 'M' + q[0][0].toFixed(1) + ' ' + q[0][1].toFixed(1);
  const segs = closed ? n : n - 1;
  for (let i = 0; i < segs; i++) {
    const a = at(i - 1), b = at(i), c = at(i + 1), e = at(i + 2);
    d += 'C' + (b[0] + (c[0] - a[0]) / 6).toFixed(1) + ' ' + (b[1] + (c[1] - a[1]) / 6).toFixed(1) + ' ' +
         (c[0] - (e[0] - b[0]) / 6).toFixed(1) + ' ' + (c[1] - (e[1] - b[1]) / 6).toFixed(1) + ' ' +
         c[0].toFixed(1) + ' ' + c[1].toFixed(1);
  }
  return d + (closed ? 'Z' : '');
}
function linePath(p, lines) {
  return lines.map(l => 'M' + l.map(a => xLon(p, a[0]).toFixed(1) + ' ' + yLat(p, a[1]).toFixed(1)).join('L')).join('');
}
function drawPanel(p, idx) {
  drawField(p);
  const root = document.getElementById('panels');
  const g = make(root, 'g', {});
  
  

  const clip = make(document.getElementById('defs'), 'clipPath', {id: 'clip' + idx});
  make(clip, 'rect', {x: p.x0, y: p.y0, width: PW, height: PH});
  const inner = make(g, 'g', {'clip-path': 'url(#clip' + idx + ')'});

  const coast = make(inner, 'path', {d: linePath(p, coastlines) + linePath(p, islands), fill: 'none', stroke: '#666', 'stroke-width': 1.8});
  
  
  const bord = make(inner, 'path', {d: linePath(p, borders), fill: 'none', stroke: '#666', 'stroke-width': 1.6});
  
  

  const eq = make(inner, 'line', {x1: p.x0, x2: p.x0 + PW, y1: yLat(p, 0), y2: yLat(p, 0), stroke: '#555', 'stroke-width': 1.3, 'stroke-dasharray': '5 4'});
  
  
  const gr = make(inner, 'line', {x1: xLon(p, 0), x2: xLon(p, 0), y1: yLat(p, 5), y2: yLat(p, -10), stroke: '#555', 'stroke-width': 1.1, 'stroke-dasharray': '5 4'});
  
  

  p.low.forEach(tr => {
    const el = make(inner, 'path', {d: smoothPath(p, tr), fill: 'none', stroke: '#a030e8', 'stroke-width': 2});
    
    
  });
  p.er.forEach(tr => {
    const el = make(inner, 'path', {d: smoothPath(p, tr), fill: 'none', stroke: '#f01010', 'stroke-width': 2});
    
    
  });
  p.kelvin.forEach(tr => {
    const el = make(inner, 'path', {d: smoothPath(p, tr), fill: 'none', stroke: '#1010f0', 'stroke-width': 2});
    
    
  });
  p.mjo.forEach(tr => {
    const el = make(inner, 'path', {d: smoothPath(p, tr), fill: 'none', stroke: '#000', 'stroke-width': 2});
    
    
  });

  p.storms.forEach(s => {
    const cx = xLon(p, s[0]), cy = yLat(p, s[1]);
    const sg = make(g, 'g', {});
    
    
    make(sg, 'path', {d: `M${cx+1} ${cy-10}C${cx+6} ${cy-6} ${cx+6} ${cy+1} ${cx+5} ${cy+3}C${cx+4} ${cy+7} ${cx} ${cy+8} ${cx-1} ${cy+10}C${cx-6} ${cy+6} ${cx-6} ${cy-1} ${cx-5} ${cy-3}C${cx-4} ${cy-7} ${cx} ${cy-8} ${cx+1} ${cy-10}Z`, fill: '#cc1111', stroke: '#000', 'stroke-width': 1.3});
    const t = make(sg, 'text', {x: cx, y: cy + 3.5, 'font-size': 10, 'font-weight': 'bold', 'text-anchor': 'middle', style: 'fill:#fff'});
    t.textContent = s[2];
  });

  /* frame and ticks */
  let major = '', minor = '';
  for (let lon = -90; lon <= 90; lon += 10) {
    const x = xLon(p, lon).toFixed(1);
    if (lonTickValues.includes(lon)) major += `M${x} ${p.y0-5}V${p.y0}M${x} ${p.y0+PH}V${p.y0+PH+5}`;
    else minor += `M${x} ${p.y0-2.5}V${p.y0}M${x} ${p.y0+PH}V${p.y0+PH+3}`;
  }
  for (let lat = -10; lat <= 30; lat += 2) {
    const y = yLat(p, lat).toFixed(1);
    if (lat % 10 === 0) major += `M${p.x0-5} ${y}H${p.x0}M${p.x0+PW} ${y}H${p.x0+PW+5}`;
    else minor += `M${p.x0-3} ${y}H${p.x0}M${p.x0+PW} ${y}H${p.x0+PW+2.5}`;
  }
  const minorTicks = make(g, 'path', {d: minor, stroke: '#000', 'stroke-width': 1.2, fill: 'none'});
  
  
  const majorTicks = make(g, 'path', {d: major, stroke: '#000', 'stroke-width': 2.5, fill: 'none'});
  
  
  const frame = make(g, 'rect', {x: p.x0, y: p.y0, width: PW, height: PH, fill: 'none', stroke: '#000', 'stroke-width': 3});
  
  

  /* tick labels */
  const al = document.getElementById('axis-labels');
  if (p.left) {
    latTickValues.forEach((v, i) => {
      const t = make(al, 'text', {x: 74, y: yLat(p, v) + 12.5, 'text-anchor': 'end'});
      t.textContent = latTickLabels[i];
      
      
    });
  }
  if (p.bottom) {
    lonTickValues.forEach((v, i) => {
      const t = make(al, 'text', {x: xLon(p, v), y: 942, 'text-anchor': 'middle'});
      t.textContent = lonTickLabels[i];
      
      
    });
  }
}
panelLayout.forEach(drawPanel);

/* ---------- colorbar ---------- */
(function () {
  const cb = document.getElementById('colorbar');
  const x0 = 230, w = 602 / colorbarColors.length, y = 1004, h = 24;
  colorbarColors.forEach((c, i) => {
    const r = make(cb, 'rect', {x: x0 + i * w, y: y, width: w, height: h, fill: c, stroke: '#000', 'stroke-width': 1.3});
    
    
  });
  colorbarLabels.forEach((lab, i) => {
    const t = make(cb, 'text', {x: x0 + (i + 1) * w, y: 1057, 'font-size': 31, 'text-anchor': 'middle'});
    t.textContent = lab;
    
    
  });
})();
</script>
</body>
</html>
